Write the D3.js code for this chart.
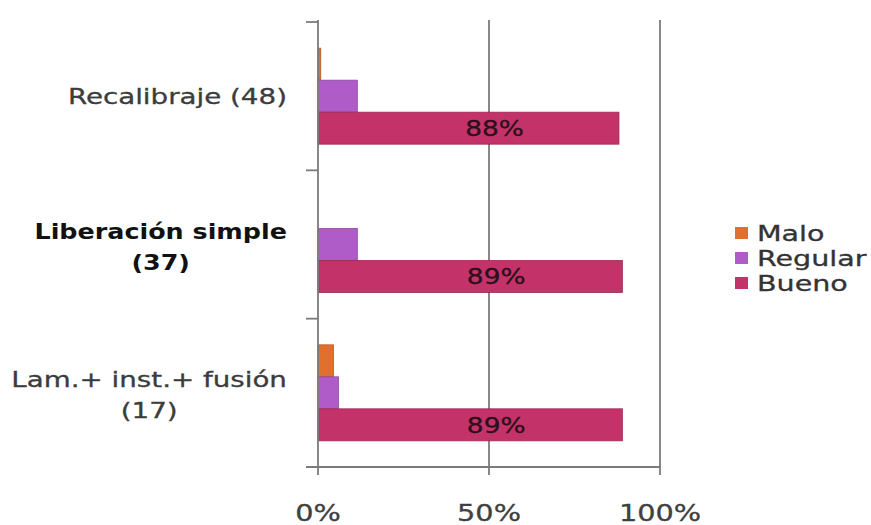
<!DOCTYPE html>
<html><head><meta charset="utf-8">
<script src="https://cdn.jsdelivr.net/npm/d3@7"></script>
<style>
html,body{margin:0;padding:0;background:#fff;}
svg{display:block;font-family:"DejaVu Sans",sans-serif;}
</style></head>
<body>
<svg id="c" width="871" height="525"></svg>
<script>
// ---- data ----
const categories = ["Recalibraje (48)", "Liberación simple (37)", "Lam.+ inst.+ fusión (17)"];
const categoryLines = [["Recalibraje (48)"], ["Liberación simple", "(37)"], ["Lam.+ inst.+ fusión", "(17)"]];
const boldCategory = [false, true, false];
const series = ["Malo", "Regular", "Bueno"];
const maloValues = [0.8, 0, 4.5];
const regularValues = [11.5, 11.5, 6];
const buenoValues = [88, 89, 89];
const buenoLabels = ["88%", "89%", "89%"];
const xTicks = [0, 50, 100];
const xTickLabels = ["0%", "50%", "100%"];

const colors = {Malo: "#e0702c", Regular: "#b05cc8", Bueno: "#c3336a"};
const strokes = {Malo: "#b85520", Regular: "#8c46a4", Bueno: "#9c2850"};
const valuesBySeries = {Malo: maloValues, Regular: regularValues, Bueno: buenoValues};

const svg = d3.select("#c");
const x = d3.scaleLinear().domain([0, 100]).range([318, 660]);
const y = d3.scaleBand().domain(categories).range([22, 467]).paddingInner(0.353).paddingOuter(0.1765);
const ySub = d3.scaleBand().domain(series).range([0, y.bandwidth()]);

// horizontally stretched text (the reference is slightly widened)
function place(sel, fx, fy, f) {
  sel.attr("x", 0).attr("y", 0)
     .attr("transform", (d, i) => `translate(${fx(d, i)},${fy(d, i)}) scale(${f},1)`);
}

const gridColor = "#7b7b7b";
// vertical gridlines at 50, 100
svg.append("g").selectAll("line").data(xTicks.filter(d => d > 0)).join("line")
  .attr("x1", d => x(d)).attr("x2", d => x(d))
  .attr("y1", 20).attr("y2", 467)
  .attr("stroke", gridColor).attr("stroke-width", 1.8);

// bars
const groups = svg.append("g").selectAll("g").data(categories).join("g")
  .attr("transform", c => `translate(0,${y(c)})`);
series.forEach(s => {
  groups.append("rect")
    .attr("x", x(0))
    .attr("y", ySub(s))
    .attr("width", (c, i) => x(valuesBySeries[s][i]) - x(0))
    .attr("height", ySub.bandwidth())
    .attr("fill", colors[s])
    .attr("stroke", (c, i) => valuesBySeries[s][i] > 0 ? strokes[s] : "none")
    .attr("stroke-width", 0.8);
});

// bueno labels
const bl = groups.append("text")
  .attr("text-anchor", "middle")
  .attr("font-size", 22)
  .attr("fill", "#2a1018").attr("stroke", "#2a1018").attr("stroke-width", 0.3)
  .text((c, i) => buenoLabels[i]);
place(bl, (c, i) => x(buenoValues[i] / 2) + 26, () => ySub("Bueno") + ySub.bandwidth() / 2 + 8, 1.2);

// y axis line + ticks
const yAxisG = svg.append("g");
yAxisG.append("line").attr("x1", x(0)).attr("x2", x(0)).attr("y1", 20).attr("y2", 467)
  .attr("stroke", gridColor).attr("stroke-width", 1.8);
const yBounds = categories.map(c => y(c) - (y.step() - y.bandwidth()) / 2).concat([467]);
yAxisG.selectAll("line.t").data(yBounds).join("line").attr("class", "t")
  .attr("x1", 306).attr("x2", x(0)).attr("y1", d => d).attr("y2", d => d)
  .attr("stroke", gridColor).attr("stroke-width", 1.8);

// x axis
const xAxisG = svg.append("g");
xAxisG.append("line").attr("x1", 306).attr("x2", x(100)).attr("y1", 467).attr("y2", 467)
  .attr("stroke", gridColor).attr("stroke-width", 1.8);
xAxisG.selectAll("line.t").data(xTicks).join("line").attr("class", "t")
  .attr("x1", d => x(d)).attr("x2", d => x(d)).attr("y1", 467).attr("y2", 475)
  .attr("stroke", gridColor).attr("stroke-width", 1.8);
const xl = xAxisG.selectAll("text").data(xTicks).join("text")
  .attr("text-anchor", "middle").attr("font-size", 23)
  .attr("fill", "#404040").attr("stroke", "#404040").attr("stroke-width", 0.3)
  .text((d, i) => xTickLabels[i]);
place(xl, d => x(d), () => 521, 1.25);

// category labels
const labelRight = 287;
categories.forEach((c, i) => {
  const lines = categoryLines[i];
  const cy = y(c) + y.bandwidth() / 2;
  const lh = 31;
  const col = boldCategory[i] ? "#111" : "#3c3c3c";
  const g = svg.append("g");
  const t = g.selectAll("text").data(lines).join("text")
    .attr("font-size", 21)
    .attr("font-weight", boldCategory[i] ? "bold" : "normal")
    .attr("fill", col).attr("stroke", col).attr("stroke-width", boldCategory[i] ? 0 : 0.3)
    .attr("text-anchor", "middle")
    .text(d => d);
  const f = boldCategory[i] ? 1.21 : 1.32;
  let maxW = 0;
  t.each(function() { maxW = Math.max(maxW, this.getComputedTextLength() * f); });
  place(t, () => labelRight - maxW / 2, (d, j) => cy + (j - (lines.length - 1) / 2) * lh + 8 + (lines.length > 1 ? 2 : 0), f);
});

// legend
const lg = svg.append("g").attr("transform", "translate(735,233)");
const li = lg.selectAll("g").data(series).join("g").attr("transform", (d, i) => `translate(0,${i * 25})`);
li.append("rect").attr("x", 0).attr("y", -6).attr("width", 13).attr("height", 12).attr("fill", d => colors[d]);
const lt = li.append("text").attr("font-size", 21)
  .attr("fill", "#333").attr("stroke", "#333").attr("stroke-width", 0.3).text(d => d);
place(lt, () => 22, () => 8, 1.36);
</script>
</body></html>
